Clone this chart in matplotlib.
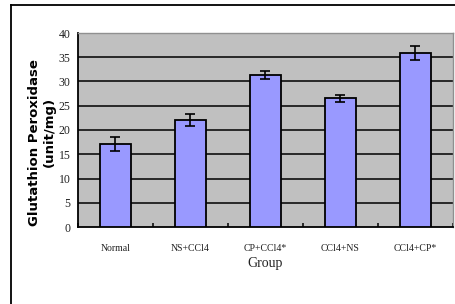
import matplotlib
matplotlib.use("Agg")
from matplotlib import pyplot as plt
from matplotlib.lines import Line2D
import numpy as np

# Chart data.
groups = ["Normal", "NS+CCl4", "CP+CCl4*", "CCl4+NS", "CCl4+CP*"]
tick_labels = ["Normal", "NS+CCl4", "CP+CCl4*", "CCl4+NS", "CCl4+CP*"]
means = [17.1, 22.0, 31.4, 26.5, 35.9]
errors = [1.5, 1.2, 0.8, 0.7, 1.5]
y_ticks = [0, 5, 10, 15, 20, 25, 30, 35, 40]

W, H = 456, 304
fig = plt.figure(figsize=(W / 100, H / 100), dpi=100)
fig.patch.set_facecolor("white")

# Plot area placed to match the reference pixel box.
left, right, top, bottom = 78, 452.7, 33, 227
ax = fig.add_axes([left / W, 1 - bottom / H, (right - left) / W, (bottom - top) / H])
ax.set_facecolor("#C0C0C0")

x = np.arange(len(groups))
ax.bar(x, means, width=0.41, color="#9999FF", edgecolor="black",
       linewidth=1.3, zorder=3)
ax.errorbar(x, means, yerr=errors, fmt="none", ecolor="black",
            elinewidth=1.2, capsize=3.6, capthick=1.2, zorder=4)

ax.set_xlim(-0.5, len(groups) - 0.5)
ax.set_ylim(0, 40)
ax.set_yticks(y_ticks)
ax.set_yticklabels([str(v) for v in y_ticks], family="Liberation Serif",
                   fontsize=8.5, color="#222222")
ax.tick_params(axis="y", length=0, pad=5.5)

# Horizontal grid lines (inner ones only; top edge is the gray frame)
for v in y_ticks[1:-1]:
    ax.axhline(v, color="black", linewidth=1.1, zorder=1)

# Category labels with short inside ticks on the boundaries
ax.set_xticks(x)
ax.set_xticklabels(tick_labels, family="Liberation Serif", fontsize=7,
                   color="#222222")
ax.tick_params(axis="x", length=0, pad=12)
ax.set_xticks(np.arange(len(groups) + 1) - 0.5, minor=True)
ax.tick_params(axis="x", which="minor", direction="in", length=3,
               width=1.1, color="black")

for side in ["left", "bottom"]:
    ax.spines[side].set_color("black")
    ax.spines[side].set_linewidth(1.3)
for side in ["top", "right"]:
    ax.spines[side].set_color("#909090")
    ax.spines[side].set_linewidth(1.0)

ax.set_xlabel("Group", family="Liberation Serif", fontsize=10,
              color="#222222", labelpad=3)

# Y label in two lines, bold and rotated
fig.text(35 / W, 1 - 143 / H, "Glutathion Peroxidase", rotation=90,
         ha="center", va="center", fontsize=9.5, fontweight="bold",
         family="DejaVu Sans")
fig.text(49 / W, 1 - 132 / H, "(unit/mg)", rotation=90,
         ha="center", va="center", fontsize=9.5, fontweight="bold",
         family="DejaVu Sans")

# Outer chart frame (top and left edges visible)
fig.add_artist(Line2D([11 / W, 1.0], [1 - 5 / H, 1 - 5 / H],
                      color="black", linewidth=1.3))
fig.add_artist(Line2D([11 / W, 11 / W], [0.0, 1 - 5 / H],
                      color="black", linewidth=1.3))

fig.savefig("out.png", dpi=100)
